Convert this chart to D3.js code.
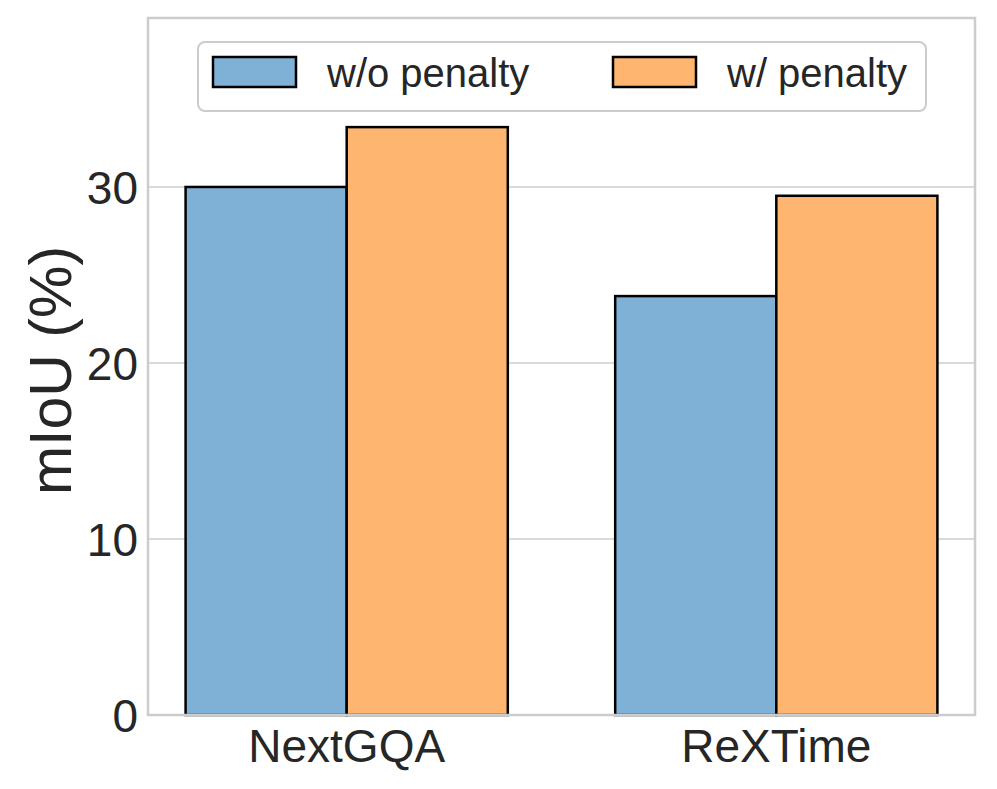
<!DOCTYPE html>
<html>
<head>
<meta charset="utf-8">
<script src="https://cdn.jsdelivr.net/npm/d3@7"></script>
<style>
  body { margin: 0; background: #fff; }
  svg { font-family: "Liberation Sans", Arial, sans-serif; }
</style>
</head>
<body>
<div id="chart"></div>
<script>
const categories = ["NextGQA", "ReXTime"];
const seriesNames = ["w/o penalty", "w/ penalty"];
const woPenalty = [30.0, 23.8];
const wPenalty = [33.4, 29.5];
const yTicks = [0, 10, 20, 30];
const colors = ["#7eb1d5", "#fdb56f"];

const width = 997, height = 789;
const margin = { left: 148, right: 22, top: 18, bottom: 74 };
const innerW = width - margin.left - margin.right;
const innerH = height - margin.top - margin.bottom;

const svg = d3.select("#chart").append("svg")
  .attr("width", width)
  .attr("height", height);

const g = svg.append("g")
  .attr("transform", `translate(${margin.left},${margin.top})`);

// numeric x like matplotlib: groups at 0 and 1, bar width 0.375
const barW = 0.375;
const x = d3.scaleLinear().domain([-0.4625, 1.4625]).range([0, innerW]);
const y = d3.scaleLinear().domain([0, 39.6]).range([innerH, 0]);

// grid
g.selectAll("line.grid")
  .data(yTicks)
  .enter().append("line")
  .attr("x1", 0).attr("x2", innerW)
  .attr("y1", d => y(d)).attr("y2", d => y(d))
  .attr("stroke", "#cccccc")
  .attr("stroke-width", 1.6);

const series = [woPenalty, wPenalty];
series.forEach((vals, si) => {
  g.selectAll("rect.s" + si)
    .data(vals)
    .enter().append("rect")
    .attr("x", (d, i) => x(i + (si === 0 ? -barW : 0)))
    .attr("width", x(barW) - x(0))
    .attr("y", d => y(d))
    .attr("height", d => y(0) - y(d))
    .attr("fill", colors[si])
    .attr("stroke", "#000")
    .attr("stroke-width", 2.5);
});

// frame
g.append("rect")
  .attr("x", 0).attr("y", 0)
  .attr("width", innerW).attr("height", innerH)
  .attr("fill", "none")
  .attr("stroke", "#cccccc")
  .attr("stroke-width", 2.5);

// y tick labels
g.selectAll("text.ytick")
  .data(yTicks)
  .enter().append("text")
  .attr("x", -10)
  .attr("y", d => y(d))
  .attr("dy", "0.36em")
  .attr("text-anchor", "end")
  .attr("font-size", 46)
  .attr("fill", "#262626")
  .text(d => d);

// x tick labels
g.selectAll("text.xtick")
  .data(categories)
  .enter().append("text")
  .attr("x", (d, i) => x(i))
  .attr("y", innerH + 47)
  .attr("text-anchor", "middle")
  .attr("font-size", 46)
  .attr("fill", "#262626")
  .text(d => d);

// y label
svg.append("text")
  .attr("transform", `translate(71,${margin.top + innerH / 2 + 4}) rotate(-90)`)
  .attr("text-anchor", "middle")
  .attr("font-size", 59)
  .attr("fill", "#262626")
  .text("mIoU (%)");

// legend
const lg = svg.append("g");
lg.append("rect")
  .attr("x", 198).attr("y", 42)
  .attr("width", 728).attr("height", 69)
  .attr("rx", 7)
  .attr("fill", "#fff")
  .attr("stroke", "#cccccc")
  .attr("stroke-width", 2);

seriesNames.forEach((name, i) => {
  const ox = 213 + i * 400;
  lg.append("rect")
    .attr("x", ox).attr("y", 57)
    .attr("width", 83).attr("height", 30)
    .attr("fill", colors[i])
    .attr("stroke", "#000")
    .attr("stroke-width", 2.5);
  lg.append("text")
    .attr("x", ox + 114).attr("y", 73)
    .attr("dy", "0.36em")
    .attr("font-size", 40)
    .attr("fill", "#262626")
    .text(name);
});
</script>
</body>
</html>
